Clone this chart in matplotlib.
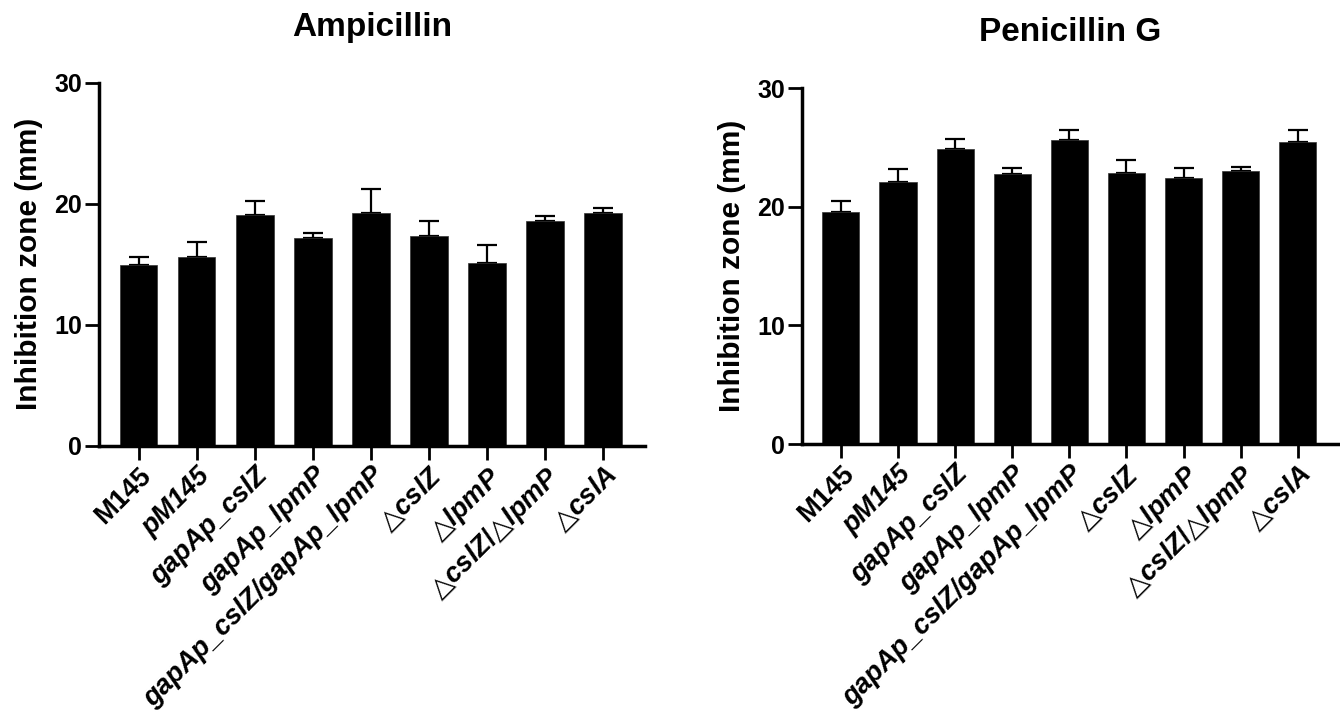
import numpy as np
import matplotlib
matplotlib.use("Agg")
import matplotlib.pyplot as plt

plt.rcParams['font.family'] = ['Liberation Sans', 'DejaVu Sans']
plt.rcParams['font.weight'] = 'bold'
plt.rcParams['mathtext.fontset'] = 'custom'
plt.rcParams['mathtext.it'] = 'Liberation Sans:italic:bold'
plt.rcParams['mathtext.rm'] = 'Liberation Sans:bold'
plt.rcParams['mathtext.sf'] = 'DejaVu Sans'

# strains (tick labels)
strains = ['M145', 'pM145', 'gapAp_cslZ', 'gapAp_lpmP', 'gapAp_cslZ/gapAp_lpmP',
           r'$\mathsf{△}\mathit{cslZ}$', r'$\mathsf{△}\mathit{lpmP}$',
           r'$\mathsf{△}\mathit{cslZ/}\mathsf{△}\mathit{lpmP}$', r'$\mathsf{△}\mathit{cslA}$']
italic = [False, True, True, True, True, False, False, False, False]

# inhibition zone means (mm) and upper error (SD)
ampicillin = [14.9, 15.6, 19.1, 17.2, 19.2, 17.3, 15.1, 18.55, 19.25]
ampicillin_err = [0.7, 1.25, 1.15, 0.35, 2.0, 1.3, 1.45, 0.4, 0.4]
penicillin = [19.55, 22.05, 24.9, 22.75, 25.6, 22.85, 22.4, 23.0, 25.45]
penicillin_err = [0.9, 1.15, 0.8, 0.5, 0.85, 1.05, 0.85, 0.35, 1.0]

fig = plt.figure(figsize=(13.4, 7.2), dpi=100)
ax1 = fig.add_axes([0.0739, 0.381, 0.4075, 0.504])
ax2 = fig.add_axes([0.5985, 0.3833, 0.4007, 0.4944])


def draw(ax, values, errs, title):
    x = np.arange(len(values))
    ax.bar(x, values, width=0.65, color='black', edgecolor='#333333', linewidth=0.5, zorder=2)
    ax.errorbar(x, values, yerr=[np.zeros(len(errs)), errs], fmt='none',
                ecolor='black', elinewidth=1.6, capsize=7, capthick=1.6, zorder=1)
    ax.set_xlim(-0.68, 8.72)
    ax.set_ylim(0, 30)
    ax.set_yticks([0, 10, 20, 30])
    ax.set_xticks(x)
    ax.set_xticklabels(strains, rotation=45, ha='right', rotation_mode='anchor', fontsize=19.5)
    for lab, it in zip(ax.get_xticklabels(), italic):
        lab.set_fontstyle('italic' if it else 'normal')
        lab.set_fontweight('bold')
    ax.tick_params(axis='y', labelsize=18, length=10, width=2, pad=2)
    ax.tick_params(axis='x', length=10, width=2, pad=2)
    for s in ['top', 'right']:
        ax.spines[s].set_visible(False)
    for s in ['left', 'bottom']:
        ax.spines[s].set_linewidth(2.5)
    ax.set_ylabel('Inhibition zone (mm)', fontsize=21.5, fontweight='bold', labelpad=8)
    ax.set_title(title, fontsize=24, fontweight='bold', pad=34)


draw(ax1, ampicillin, ampicillin_err, 'Ampicillin')
draw(ax2, penicillin, penicillin_err, 'Penicillin G')

fig.savefig('out.png', dpi=100)
